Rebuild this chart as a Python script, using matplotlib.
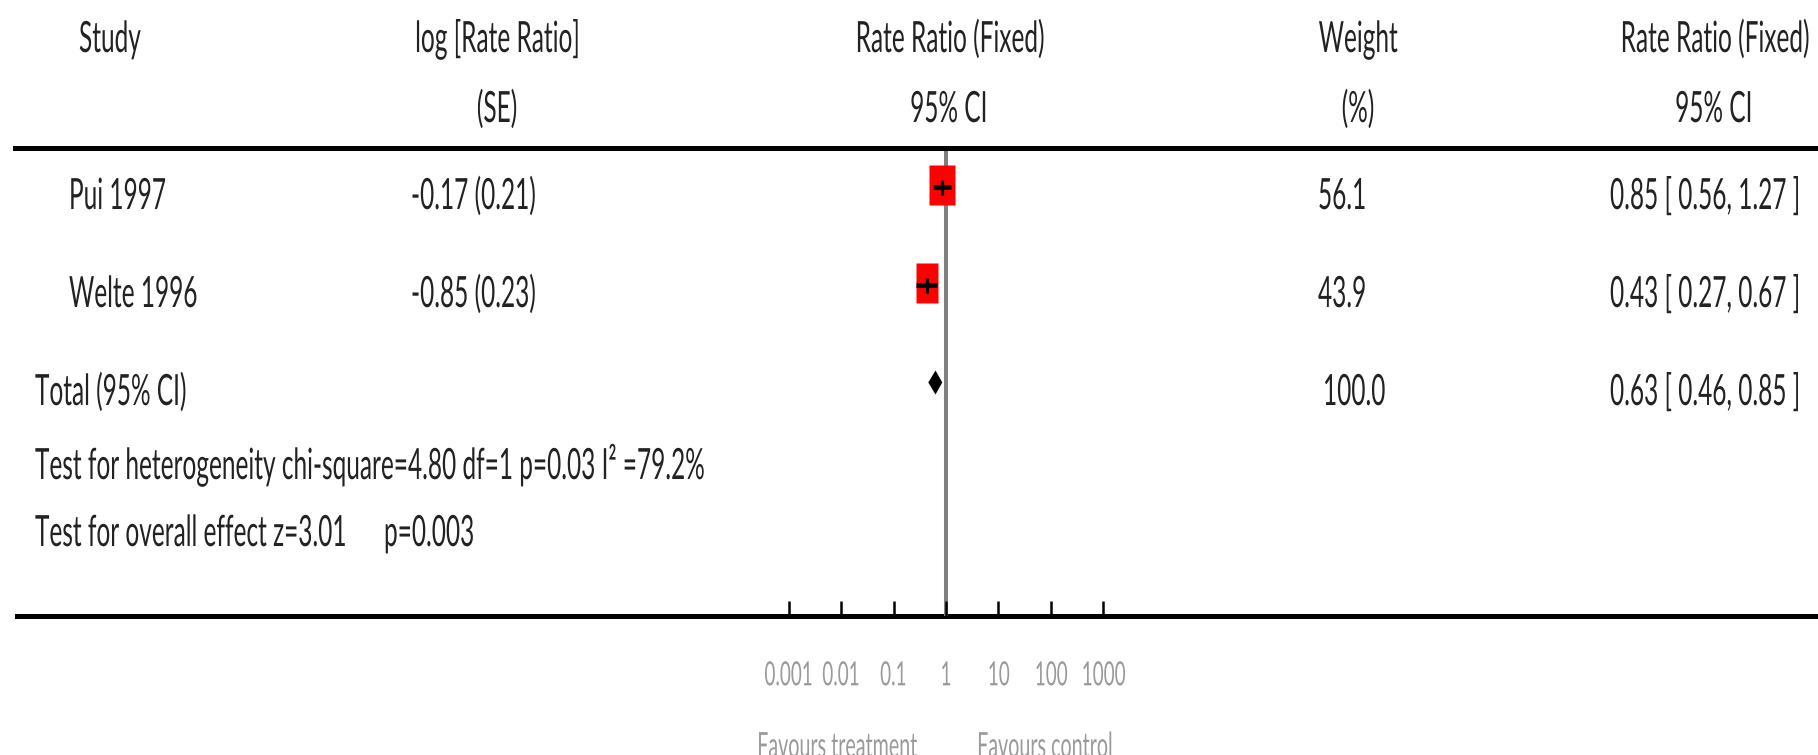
import types

import matplotlib
matplotlib.use("Agg")
import matplotlib.pyplot as plt
from matplotlib.lines import Line2D
from matplotlib.path import Path
from matplotlib.patheffects import AbstractPathEffect
from matplotlib.text import Text
from matplotlib.transforms import Affine2D, Bbox
from matplotlib.ticker import NullLocator

# ---- data ---------------------------------------------------------------
studies = ["Pui 1997", "Welte 1996"]
log_rr = [-0.17, -0.85]
log_se = [0.21, 0.23]
weights = [56.1, 43.9]
rate_ratio = [0.85, 0.43]
ci_low = [0.56, 0.27]
ci_high = [1.27, 0.67]

total_label = "Total (95% CI)"
total_weight = 100.0
total_rr = 0.63
total_low = 0.46
total_high = 0.85

heterogeneity = "Test for heterogeneity chi-square=4.80 df=1 p=0.03 I\u00b2 =79.2%"
overall_effect = "Test for overall effect z=3.01      p=0.003"

header_top = ["Study", "log [Rate Ratio]", "Rate Ratio (Fixed)", "Weight", "Rate Ratio (Fixed)"]
header_bottom = ["", "(SE)", "95% CI", "(%)", "95% CI"]

x_ticks = [0.001, 0.01, 0.1, 1, 10, 100, 1000]
x_tick_labels = ["0.001", "0.01", "0.1", "1", "10", "100", "1000"]
favours = ["Favours treatment", "Favours control"]

# ---- layout (pixels) ----------------------------------------------------
W, H = 1818, 755
FONT = "Lato"
SQUEEZE = 0.567
TEXT_COLOR = "#222222"
AXIS_TEXT_COLOR = "#9a9a9a"


def fx(px):
    return px / W


def fy(py):
    return 1 - py / H


class Squeeze(AbstractPathEffect):
    """Draw glyph outlines narrowed horizontally (condensed lettering)."""

    def __init__(self, sx, anchor="left"):
        super().__init__()
        self.sx = sx
        self.anchor = anchor

    def draw_path(self, renderer, gc, tpath, affine, rgbFace=None):
        ext = tpath.get_extents()
        if self.anchor == "center":
            x0 = (ext.x0 + ext.x1) / 2
        elif self.anchor == "right":
            x0 = ext.x1
        else:
            x0 = 0.0
        t = Affine2D().translate(-x0, 0).scale(self.sx, 1).translate(x0, 0) + affine
        renderer.draw_path(gc, tpath, t, rgbFace)


def condense(text, sx=SQUEEZE):
    """Render a Text narrowed by sx and report the narrowed extent."""
    ha = text.get_horizontalalignment()
    text.set_path_effects([Squeeze(sx, ha)])
    full_extent = Text.get_window_extent

    def narrowed_extent(self, renderer=None, dpi=None):
        bb = full_extent(self, renderer, dpi)
        w = bb.width * sx
        if ha == "center":
            x0 = bb.x0 + (bb.width - w) / 2
        elif ha == "right":
            x0 = bb.x1 - w
        else:
            x0 = bb.x0
        return Bbox.from_bounds(x0, bb.y0, w, bb.height)

    text.get_window_extent = types.MethodType(narrowed_extent, text)
    return text


def label(px, py, s, ha="left", size=31, color=TEXT_COLOR):
    t = fig.text(fx(px), fy(py), s, ha=ha, va="baseline", fontsize=size,
                 family=FONT, color=color)
    return condense(t)


fig = plt.figure(figsize=(W / 100, H / 100), dpi=100)
fig.patch.set_facecolor("white")

# forest panel geometry
AX_L, AX_R, AX_T, AX_B = 700, 1200, 147.5, 615.5
ONE_PX, DECADE_PX = 946, 52.4
ROW0_PX, ROW_STEP = 186.5, 98.0
TEXT_DROP = 22.5

ax = fig.add_axes([fx(AX_L), fy(AX_B), (AX_R - AX_L) / W, (AX_B - AX_T) / H])
ax.set_xscale("log")
ax.set_xlim(10 ** ((AX_L - ONE_PX) / DECADE_PX), 10 ** ((AX_R - ONE_PX) / DECADE_PX))
ax.set_ylim((AX_B - ROW0_PX) / ROW_STEP, -(ROW0_PX - AX_T) / ROW_STEP)
ax.patch.set_alpha(0)
for sp in ax.spines.values():
    sp.set_visible(False)
ax.yaxis.set_visible(False)

# line of no effect
ax.axvline(1, color="#808080", lw=2.9, zorder=1)

# study boxes and confidence intervals
BOX_H = 40.0
for i, (rr, lo, hi, w) in enumerate(zip(rate_ratio, ci_low, ci_high, weights)):
    bw = 3.47 * w ** 0.5
    rect = Path([(-bw / 2, -BOX_H / 2), (bw / 2, -BOX_H / 2), (bw / 2, BOX_H / 2),
                 (-bw / 2, BOX_H / 2), (-bw / 2, -BOX_H / 2)],
                [Path.MOVETO, Path.LINETO, Path.LINETO, Path.LINETO, Path.CLOSEPOLY])
    ax.plot([rr], [i - 0.02], marker=rect, ms=BOX_H * 0.72, color="#ff0000",
            mec="none", ls="none", zorder=2)
    ax.plot([lo, hi], [i, i], color="black", lw=3.6, solid_capstyle="butt", zorder=3)
    ax.plot([rr], [i], marker="|", ms=10.8, mew=2.3, color="black", ls="none", zorder=3)

# pooled estimate diamond
k = len(studies)
dh = 12.0 / ROW_STEP
ax.fill([total_low, total_rr, total_high, total_rr], [k, k - dh, k, k + dh],
        color="black", lw=0, zorder=3)

# x axis
ax.xaxis.set_minor_locator(NullLocator())
ax.set_xticks(x_ticks)
tick_texts = ax.set_xticklabels(x_tick_labels)
ax.tick_params(axis="x", direction="in", length=10.8, width=1.8, color="black",
               labelsize=24, labelcolor=AXIS_TEXT_COLOR, pad=33)
for t in tick_texts:
    t.set_family(FONT)
    condense(t)

# horizontal rules
fig.add_artist(Line2D([fx(15), 1], [fy(147.5)] * 2, transform=fig.transFigure,
                      lw=3.6, color="black"))
fig.add_artist(Line2D([fx(17), 1], [fy(615.5)] * 2, transform=fig.transFigure,
                      lw=3.6, color="black", zorder=0))

# column headers
col_x = [79, 497, 949, 1358, 1714]
col_ha = ["left", "center", "center", "center", "center"]
for x, ha, t1, t2 in zip(col_x, col_ha, header_top, header_bottom):
    label(x, 52, t1, ha=ha)
    if t2:
        label(x, 122, t2, ha=ha)

# study rows
for i, name in enumerate(studies):
    yb = ROW0_PX + i * ROW_STEP + TEXT_DROP
    label(69, yb, name)
    label(411, yb, f"{log_rr[i]:.2f} ({log_se[i]:.2f})")
    label(1318, yb, f"{weights[i]:.1f}")
    label(1610, yb, f"{rate_ratio[i]:.2f} [ {ci_low[i]:.2f}, {ci_high[i]:.2f} ]")

yb = ROW0_PX + k * ROW_STEP + TEXT_DROP
label(35, yb, total_label)
label(1323, yb, f"{total_weight:.1f}")
label(1610, yb, f"{total_rr:.2f} [ {total_low:.2f}, {total_high:.2f} ]")

label(35, 479, heterogeneity)
label(35, 546, overall_effect)

# favours labels
label(837, 757, favours[0], ha="center", size=25, color=AXIS_TEXT_COLOR)
label(1045, 757, favours[1], ha="center", size=25, color=AXIS_TEXT_COLOR)

fig.savefig("out.png", dpi=100, facecolor="white")
